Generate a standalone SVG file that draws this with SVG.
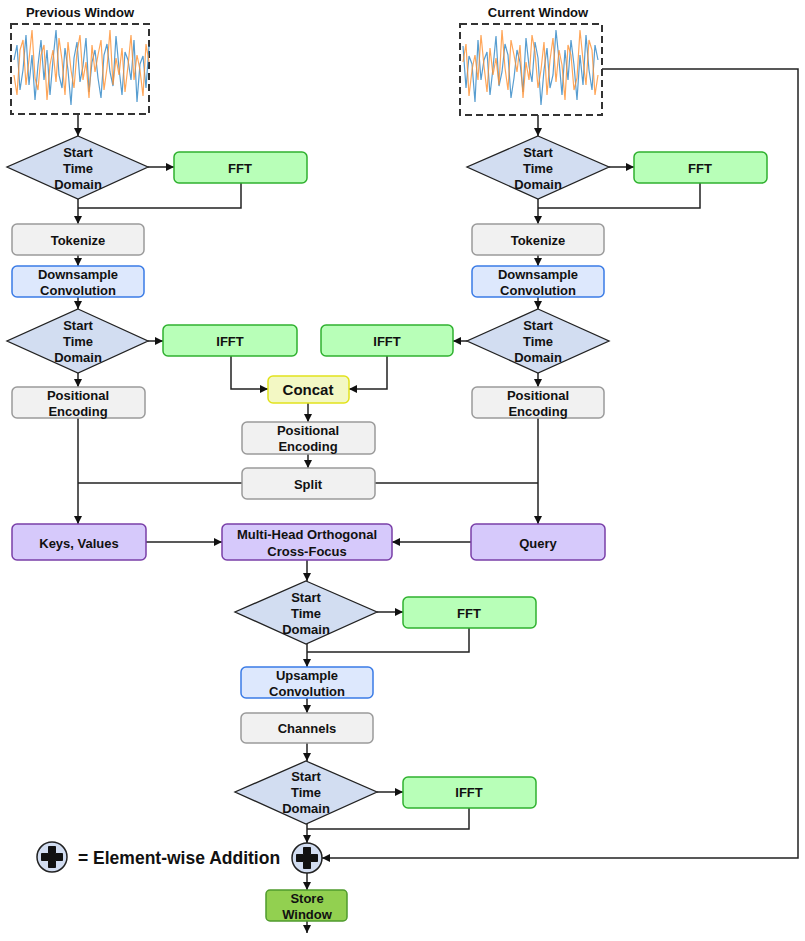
<svg xmlns="http://www.w3.org/2000/svg" width="805" height="941" viewBox="0 0 805 941">
<style>
text{font-family:"Liberation Sans",Arial,sans-serif;font-weight:bold;font-size:13px;fill:#111;text-anchor:middle;dominant-baseline:central}
.dia{fill:#d2ddf1;stroke:#222;stroke-width:1.3}
.fft{fill:#b8ffb8;stroke:#2fb12f;stroke-width:1.5}
.gray{fill:#f1f1f1;stroke:#9a9a9a;stroke-width:1.5}
.blue{fill:#dde8fd;stroke:#3a7be6;stroke-width:1.5}
.purp{fill:#d6c9fb;stroke:#7a3fa8;stroke-width:1.5}
.conc{fill:#f3f8c4;stroke:#e2e21c;stroke-width:1.5}
.store{fill:#92d050;stroke:#4f9b2c;stroke-width:1.5}
.win{fill:#fff;stroke:#333;stroke-width:2;stroke-dasharray:7 4}
.conn path{fill:none;stroke:#222;stroke-width:1.5}
.arr{marker-end:url(#ah)}
.sb{fill:none;stroke:#3a8cc8;stroke-width:1.2;opacity:.85}
.so{fill:none;stroke:#ff9030;stroke-width:1.2;opacity:.8}
</style>
<defs>
<marker id="ah" markerUnits="userSpaceOnUse" markerWidth="8" markerHeight="8" refX="8" refY="4" orient="auto"><path d="M0,0 L8,4 L0,8 z" fill="#111"/></marker>
<g id="sig">
<polyline class="sb" points="14,60 17,45 20,90 23,70 26,35 29,85 32,55 35,100 38,65 41,40 44,80 47,50 50,95 53,60 56,30 59,75 62,88 65,48 68,70 71,105 74,58 77,42 80,82 83,66 86,38 89,92 92,62 95,50 98,78 101,98 104,55 107,44 110,72 113,86 116,36 119,68 122,95 125,52 128,60 131,80 134,40 137,102 140,64 143,56 146,88 149,46"/>
<polyline class="so" points="14,75 17,95 20,50 23,40 26,85 29,60 32,30 35,78 38,90 41,55 44,45 47,100 50,65 53,50 56,82 59,38 62,60 65,95 68,42 71,70 74,88 77,52 80,35 83,80 86,62 89,98 92,45 95,72 98,55 101,40 104,90 107,68 110,30 113,85 116,58 119,75 122,48 125,92 128,66 131,35 134,80 137,55 140,70 143,96 146,44 149,62"/>
</g>
<g id="plus"><circle r="15" fill="#d2ddf1" stroke="#222" stroke-width="1.5"/><path d="M-3.5,-10.5 H3.5 V-3.5 H10.5 V3.5 H3.5 V10.5 H-3.5 V3.5 H-10.5 V-3.5 H-3.5 Z" fill="#111" stroke="#111" stroke-width="1" stroke-linejoin="round"/></g>
</defs>
<rect width="805" height="941" fill="#fff"/>

<g class="conn">
<path class="arr" d="M78,114 V136"/>
<path class="arr" d="M148,167 H174"/>
<path class="arr" d="M78,199 V224"/>
<path d="M241,183 V208 H78"/>
<path class="arr" d="M78,255 V266"/>
<path class="arr" d="M78,297 V309"/>
<path class="arr" d="M148,341 H163"/>
<path class="arr" d="M78,373 V387"/>
<path class="arr" d="M231,356 V389 H268"/>
<path class="arr" d="M387,356 V389 H349"/>
<path class="arr" d="M308,403 V422"/>
<path class="arr" d="M308,454 V468"/>
<path class="arr" d="M78,418 V524"/>
<path d="M242,483 H78"/>
<path class="arr" d="M538,418 V524"/>
<path d="M375,483 H538"/>
<path class="arr" d="M146,542 H222"/>
<path class="arr" d="M471,542 H392"/>
<path class="arr" d="M307,560 V581"/>
<path class="arr" d="M377,612 H403"/>
<path class="arr" d="M307,644 V667"/>
<path d="M469,628 V652 H307"/>
<path class="arr" d="M307,698 V713"/>
<path class="arr" d="M307,743 V761"/>
<path class="arr" d="M377,792 H403"/>
<path class="arr" d="M307,824 V843"/>
<path d="M469,808 V829 H307"/>
<path class="arr" d="M602,69 H798 V858 H322"/>
<path class="arr" d="M307,873 V890"/>
<path class="arr" d="M307,921 V933"/>
<path class="arr" d="M538,115 V136"/>
<path class="arr" d="M609,167 H634"/>
<path class="arr" d="M538,199 V224"/>
<path d="M700,183 V208 H538"/>
<path class="arr" d="M538,255 V266"/>
<path class="arr" d="M538,297 V309"/>
<path class="arr" d="M467,341 H453"/>
<path class="arr" d="M538,373 V387"/>
</g>

<g id="prev-window">
<text x="80" y="12">Previous Window</text>
<rect class="win" x="11" y="24" width="138" height="90"/>
<use href="#sig"/>
</g>
<g id="cur-window">
<text x="538" y="12">Current Window</text>
<rect class="win" x="460" y="24" width="142" height="91"/>
<use href="#sig" transform="translate(612,0) scale(-1,1)"/>
</g>

<g id="d1l"><polygon class="dia" points="78,136 148,167 78,199 7,167"/><text x="78" y="152">Start</text><text x="78" y="168">Time</text><text x="78" y="184">Domain</text></g>
<g id="fft-l"><rect class="fft" x="174" y="152" width="133" height="31" rx="5"/><text x="240" y="168">FFT</text></g>
<g id="tok-l"><rect class="gray" x="12" y="224" width="132" height="31" rx="5"/><text x="78" y="240">Tokenize</text></g>
<g id="down-l"><rect class="blue" x="12" y="266" width="132" height="31" rx="5"/><text x="78" y="274">Downsample</text><text x="78" y="290">Convolution</text></g>
<g id="d2l"><polygon class="dia" points="78,309 148,341 78,373 7,341"/><text x="78" y="325">Start</text><text x="78" y="341">Time</text><text x="78" y="357">Domain</text></g>
<g id="ifft-l"><rect class="fft" x="163" y="325" width="134" height="31" rx="5"/><text x="230" y="341">IFFT</text></g>
<g id="pe-l"><rect class="gray" x="12" y="387" width="133" height="31" rx="5"/><text x="78" y="395">Positional</text><text x="78" y="411">Encoding</text></g>

<g id="d1r"><polygon class="dia" points="538,136 609,167 538,199 467,167"/><text x="538" y="152">Start</text><text x="538" y="168">Time</text><text x="538" y="184">Domain</text></g>
<g id="fft-r"><rect class="fft" x="634" y="152" width="133" height="31" rx="5"/><text x="700" y="168">FFT</text></g>
<g id="tok-r"><rect class="gray" x="472" y="224" width="132" height="31" rx="5"/><text x="538" y="240">Tokenize</text></g>
<g id="down-r"><rect class="blue" x="472" y="266" width="132" height="31" rx="5"/><text x="538" y="274">Downsample</text><text x="538" y="290">Convolution</text></g>
<g id="d2r"><polygon class="dia" points="538,309 609,341 538,373 467,341"/><text x="538" y="325">Start</text><text x="538" y="341">Time</text><text x="538" y="357">Domain</text></g>
<g id="ifft-r"><rect class="fft" x="321" y="325" width="132" height="31" rx="5"/><text x="387" y="341">IFFT</text></g>
<g id="pe-r"><rect class="gray" x="472" y="387" width="132" height="31" rx="5"/><text x="538" y="395">Positional</text><text x="538" y="411">Encoding</text></g>

<g id="concat"><rect class="conc" x="268" y="376" width="81" height="27" rx="5"/><text x="308" y="389" style="font-size:15px">Concat</text></g>
<g id="pe-m"><rect class="gray" x="242" y="422" width="133" height="32" rx="5"/><text x="308" y="430">Positional</text><text x="308" y="446">Encoding</text></g>
<g id="split"><rect class="gray" x="242" y="468" width="133" height="31" rx="5"/><text x="308" y="484">Split</text></g>

<g id="keys"><rect class="purp" x="12" y="524" width="134" height="36" rx="5"/><text x="79" y="543">Keys, Values</text></g>
<g id="mhocf"><rect class="purp" x="222" y="524" width="170" height="36" rx="5"/><text x="307" y="534">Multi-Head Orthogonal</text><text x="307" y="551">Cross-Focus</text></g>
<g id="query"><rect class="purp" x="471" y="524" width="134" height="36" rx="5"/><text x="538" y="543">Query</text></g>

<g id="d3"><polygon class="dia" points="306,581 377,612 306,644 235,612"/><text x="306" y="597">Start</text><text x="306" y="613">Time</text><text x="306" y="629">Domain</text></g>
<g id="fft-m"><rect class="fft" x="403" y="597" width="133" height="31" rx="5"/><text x="469" y="613">FFT</text></g>
<g id="up"><rect class="blue" x="241" y="667" width="132" height="31" rx="5"/><text x="307" y="675">Upsample</text><text x="307" y="691">Convolution</text></g>
<g id="chan"><rect class="gray" x="241" y="713" width="132" height="30" rx="5"/><text x="307" y="728">Channels</text></g>
<g id="d4"><polygon class="dia" points="306,761 377,792 306,824 235,792"/><text x="306" y="776">Start</text><text x="306" y="792">Time</text><text x="306" y="808">Domain</text></g>
<g id="ifft-m"><rect class="fft" x="403" y="777" width="133" height="31" rx="5"/><text x="469" y="792">IFFT</text></g>

<g id="add"><use href="#plus" x="307" y="858"/></g>
<g id="legend"><use href="#plus" x="52" y="857"/><text x="78" y="858" style="font-size:17.5px;text-anchor:start">= Element-wise Addition</text></g>
<g id="store"><rect class="store" x="266" y="890" width="81" height="31" rx="4"/><text x="307" y="898">Store</text><text x="307" y="914">Window</text></g>
</svg>
